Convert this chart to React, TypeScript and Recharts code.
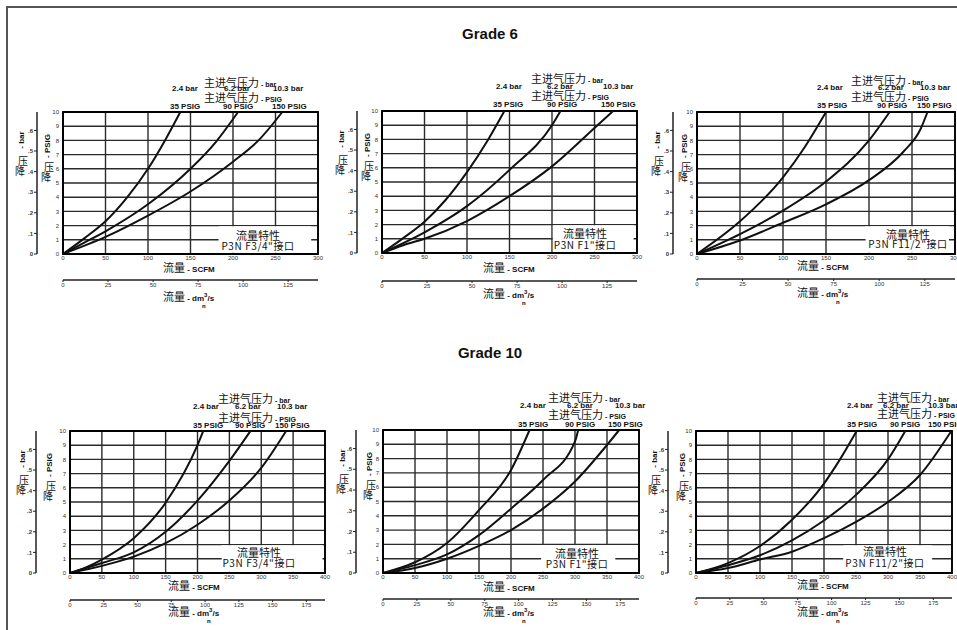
import React from 'react';
import { LineChart, Line, XAxis, YAxis, CartesianGrid, ReferenceArea } from 'recharts';

const CJK = '"Noto Sans CJK SC", "Noto Sans CJK JP", sans-serif';
const SANS = '"Liberation Sans", Arial, Helvetica, sans-serif';

type Pt = { scfm: number; psig: number };

// ---------- text / categories ----------
const gradeTitles = ['Grade 6', 'Grade 10'];
const portLabels = ['P3N F3/4"接口', 'P3N F1"接口', 'P3N F11/2"接口'];
const noteTitle = '流量特性';
const inletTitle = '主进气压力';
const inletBarLabels = ['2.4 bar', '6.2 bar', '10.3 bar'];
const inletPsigLabels = ['35 PSIG', '90 PSIG', '150 PSIG'];
const flowWord = '流量';

// ---------- ticks ----------
const psigTicks = [0, 1, 2, 3, 4, 5, 6, 7, 8, 9, 10];
const barTicks = [0, 0.1, 0.2, 0.3, 0.4, 0.5, 0.6];
const scfmTicksG6 = [0, 50, 100, 150, 200, 250, 300];
const scfmTicksG10 = [0, 50, 100, 150, 200, 250, 300, 350, 400];
const dmTicksG6 = [0, 25, 50, 75, 100, 125];
const dmTicksG10 = [0, 25, 50, 75, 100, 125, 150, 175];
const PSIG_TO_BAR = 0.0689476;
const SCFM_TO_DM = 0.471947;

// ---------- Grade 6, 3/4" ----------
const g6p34at35: Pt[] = [
  { scfm: 0, psig: 0 }, { scfm: 25, psig: 1.1 }, { scfm: 50, psig: 2.3 }, { scfm: 75, psig: 3.95 },
  { scfm: 100, psig: 6.0 }, { scfm: 120, psig: 8.0 }, { scfm: 138, psig: 10 },
];
const g6p34at90: Pt[] = [
  { scfm: 0, psig: 0 }, { scfm: 25, psig: 0.8 }, { scfm: 50, psig: 1.6 }, { scfm: 100, psig: 3.5 },
  { scfm: 150, psig: 6.0 }, { scfm: 180, psig: 7.9 }, { scfm: 206, psig: 10 },
];
const g6p34at150: Pt[] = [
  { scfm: 0, psig: 0 }, { scfm: 50, psig: 1.2 }, { scfm: 100, psig: 2.7 }, { scfm: 150, psig: 4.4 },
  { scfm: 200, psig: 6.5 }, { scfm: 230, psig: 8.0 }, { scfm: 258, psig: 10 },
];
// ---------- Grade 6, 1" ----------
const g6p1at35: Pt[] = [
  { scfm: 0, psig: 0 }, { scfm: 25, psig: 1.05 }, { scfm: 50, psig: 2.2 }, { scfm: 75, psig: 3.75 },
  { scfm: 100, psig: 5.7 }, { scfm: 125, psig: 8.0 }, { scfm: 144, psig: 10 },
];
const g6p1at90: Pt[] = [
  { scfm: 0, psig: 0 }, { scfm: 50, psig: 1.45 }, { scfm: 100, psig: 3.3 }, { scfm: 150, psig: 5.85 },
  { scfm: 200, psig: 9.0 }, { scfm: 210, psig: 10 },
];
const g6p1at150: Pt[] = [
  { scfm: 0, psig: 0 }, { scfm: 25, psig: 0.55 }, { scfm: 50, psig: 1.0 }, { scfm: 100, psig: 2.25 },
  { scfm: 150, psig: 4.0 }, { scfm: 200, psig: 6.1 }, { scfm: 250, psig: 8.8 }, { scfm: 272, psig: 10 },
];
// ---------- Grade 6, 1 1/2" ----------
const g6p112at35: Pt[] = [
  { scfm: 0, psig: 0 }, { scfm: 50, psig: 2.3 }, { scfm: 100, psig: 5.4 }, { scfm: 125, psig: 7.5 },
  { scfm: 150, psig: 10 },
];
const g6p112at90: Pt[] = [
  { scfm: 0, psig: 0 }, { scfm: 50, psig: 1.4 }, { scfm: 100, psig: 3.05 }, { scfm: 150, psig: 5.1 },
  { scfm: 200, psig: 8.0 }, { scfm: 224, psig: 10 },
];
const g6p112at150: Pt[] = [
  { scfm: 0, psig: 0 }, { scfm: 50, psig: 0.95 }, { scfm: 100, psig: 2.2 }, { scfm: 150, psig: 3.5 },
  { scfm: 200, psig: 5.2 }, { scfm: 240, psig: 7.2 }, { scfm: 260, psig: 8.8 }, { scfm: 268, psig: 10 },
];
// ---------- Grade 10, 3/4" ----------
const g10p34at35: Pt[] = [
  { scfm: 0, psig: 0 }, { scfm: 25, psig: 0.4 }, { scfm: 50, psig: 0.95 }, { scfm: 100, psig: 2.45 },
  { scfm: 150, psig: 4.95 }, { scfm: 200, psig: 9.0 }, { scfm: 209, psig: 10 },
];
const g10p34at90: Pt[] = [
  { scfm: 0, psig: 0 }, { scfm: 50, psig: 0.7 }, { scfm: 100, psig: 1.45 }, { scfm: 150, psig: 2.9 },
  { scfm: 200, psig: 5.1 }, { scfm: 250, psig: 7.9 }, { scfm: 283, psig: 10 },
];
const g10p34at150: Pt[] = [
  { scfm: 0, psig: 0 }, { scfm: 50, psig: 0.5 }, { scfm: 100, psig: 1.15 }, { scfm: 150, psig: 2.1 },
  { scfm: 200, psig: 3.4 }, { scfm: 250, psig: 5.1 }, { scfm: 300, psig: 7.4 }, { scfm: 339, psig: 10 },
];
// ---------- Grade 10, 1" ----------
const g10p1at35: Pt[] = [
  { scfm: 0, psig: 0 }, { scfm: 50, psig: 0.75 }, { scfm: 100, psig: 2.1 }, { scfm: 150, psig: 4.4 },
  { scfm: 200, psig: 7.2 }, { scfm: 229, psig: 10 },
];
const g10p1at90: Pt[] = [
  { scfm: 0, psig: 0 }, { scfm: 50, psig: 0.55 }, { scfm: 100, psig: 1.3 }, { scfm: 150, psig: 2.65 },
  { scfm: 200, psig: 4.5 }, { scfm: 250, psig: 6.5 }, { scfm: 300, psig: 9.2 }, { scfm: 305, psig: 10 },
];
const g10p1at150: Pt[] = [
  { scfm: 0, psig: 0 }, { scfm: 50, psig: 0.35 }, { scfm: 100, psig: 1.0 }, { scfm: 150, psig: 1.9 },
  { scfm: 200, psig: 3.0 }, { scfm: 250, psig: 4.5 }, { scfm: 300, psig: 6.4 }, { scfm: 350, psig: 8.95 },
  { scfm: 369, psig: 10 },
];
// ---------- Grade 10, 1 1/2" ----------
const g10p112at35: Pt[] = [
  { scfm: 0, psig: 0 }, { scfm: 50, psig: 0.7 }, { scfm: 100, psig: 1.9 }, { scfm: 150, psig: 3.75 },
  { scfm: 200, psig: 6.3 }, { scfm: 225, psig: 8.0 }, { scfm: 251, psig: 10 },
];
const g10p112at90: Pt[] = [
  { scfm: 0, psig: 0 }, { scfm: 50, psig: 0.55 }, { scfm: 100, psig: 1.25 }, { scfm: 150, psig: 2.3 },
  { scfm: 200, psig: 3.7 }, { scfm: 250, psig: 5.5 }, { scfm: 300, psig: 8.0 }, { scfm: 327, psig: 10 },
];
const g10p112at150: Pt[] = [
  { scfm: 0, psig: 0 }, { scfm: 50, psig: 0.35 }, { scfm: 100, psig: 0.95 }, { scfm: 150, psig: 1.5 },
  { scfm: 200, psig: 2.45 }, { scfm: 250, psig: 3.6 }, { scfm: 300, psig: 5.0 }, { scfm: 350, psig: 6.9 },
  { scfm: 399, psig: 10 },
];

// ---------- layout ----------
interface PanelCfg {
  px: number; py: number; pw: number; ph: number; bx: number; axH: number;
  xmax: number; scfmTicks: number[]; dmTicks: number[]; series: Pt[][]; port: string;
  box: [number, number, number, number];
  l1x: number; l1y: number; l2y: number; barY: number; psigY: number;
  barXs: number[]; psigXs: number[];
  ylx: number; blx: number; scfmLab: [number, number]; dmLab: [number, number];
  note: [number, number, number];
}

const panels: PanelCfg[] = [
  {
    px: 63, py: 112, pw: 255, ph: 142, bx: 37, axH: 26, xmax: 300, scfmTicks: scfmTicksG6, dmTicks: dmTicksG6,
    series: [g6p34at35, g6p34at90, g6p34at150], port: portLabels[0], box: [183, 292, 0.08, 1.95],
    l1x: 204, l1y: 82, l2y: 97, barY: 89, psigY: 107, barXs: [172, 224, 273], psigXs: [170, 223, 272],
    ylx: 48, blx: 22, scfmLab: [163, 268], dmLab: [163, 297], note: [258, 235, 246],
  },
  {
    px: 382, py: 111, pw: 255, ph: 142, bx: 357, axH: 28, xmax: 300, scfmTicks: scfmTicksG6, dmTicks: dmTicksG6,
    series: [g6p1at35, g6p1at90, g6p1at150], port: portLabels[1], box: [201, 296, 0.08, 1.95],
    l1x: 531, l1y: 78, l2y: 95, barY: 87, psigY: 105, barXs: [496, 547, 603], psigXs: [493, 547, 601],
    ylx: 368, blx: 342, scfmLab: [483, 268], dmLab: [483, 294], note: [585, 233, 245],
  },
  {
    px: 697, py: 112, pw: 258, ph: 142, bx: 673, axH: 25, xmax: 300, scfmTicks: scfmTicksG6, dmTicks: dmTicksG6,
    series: [g6p112at35, g6p112at90, g6p112at150], port: portLabels[2], box: [196, 293, 0.08, 1.95],
    l1x: 851, l1y: 80, l2y: 96, barY: 88, psigY: 106, barXs: [817, 878, 920], psigXs: [817, 877, 917],
    ylx: 685, blx: 658, scfmLab: [797, 266], dmLab: [797, 293], note: [908, 234, 244],
  },
  {
    px: 70, py: 431, pw: 255, ph: 142, bx: 36, axH: 27, xmax: 400, scfmTicks: scfmTicksG10, dmTicks: dmTicksG10,
    series: [g10p34at35, g10p34at90, g10p34at150], port: portLabels[0], box: [238, 396, 0.08, 1.95],
    l1x: 218, l1y: 398, l2y: 417, barY: 407, psigY: 426, barXs: [193, 235, 277], psigXs: [193, 235, 275],
    ylx: 50, blx: 23, scfmLab: [168, 586], dmLab: [168, 612], note: [259, 552, 563],
  },
  {
    px: 383, py: 430, pw: 256, ph: 143, bx: 356, axH: 26, xmax: 400, scfmTicks: scfmTicksG10, dmTicks: dmTicksG10,
    series: [g10p1at35, g10p1at90, g10p1at150], port: portLabels[1], box: [247, 363, 0.08, 1.95],
    l1x: 548, l1y: 397, l2y: 414, barY: 406, psigY: 425, barXs: [520, 567, 615], psigXs: [518, 565, 608],
    ylx: 370, blx: 343, scfmLab: [483, 587], dmLab: [483, 612], note: [577, 553, 564],
  },
  {
    px: 696, py: 431, pw: 256, ph: 142, bx: 668, axH: 25, xmax: 400, scfmTicks: scfmTicksG10, dmTicks: dmTicksG10,
    series: [g10p112at35, g10p112at90, g10p112at150], port: portLabels[2], box: [230, 369, 0.08, 1.95],
    l1x: 877, l1y: 397, l2y: 413, barY: 406, psigY: 425, barXs: [847, 883, 928], psigXs: [847, 890, 928],
    ylx: 683, blx: 655, scfmLab: [797, 585], dmLab: [797, 612], note: [885, 551, 563],
  },
];

const Txt = ({ x, y, size, children, font = SANS, bold = false, anchor = 'start', color = '#111', style = {} }: any) => (
  <div
    style={{
      position: 'absolute', left: x, top: y,
      transform: `translate(${anchor === 'middle' ? '-50%' : anchor === 'end' ? '-100%' : '0'}, -50%)`,
      fontSize: size, fontFamily: font, fontWeight: bold ? 700 : 400, color, lineHeight: 1,
      whiteSpace: 'nowrap', ...style,
    }}
  >
    {children}
  </div>
);

const VLabel = ({ x, y, unit }: { x: number; y: number; unit: string }) => (
  <>
    <div
      style={{
        position: 'absolute', left: x, top: y,
        transform: 'translate(-50%, -50%) rotate(-90deg)',
        fontSize: 8, fontFamily: SANS, fontWeight: 700, color: '#111', lineHeight: 1, whiteSpace: 'nowrap',
      }}
    >
      - {unit}
    </div>
    <Txt x={x + 1} y={y + 21} size={10} font={CJK} anchor="middle">压</Txt>
    <Txt x={x - 2} y={y + 31} size={10} font={CJK} anchor="middle">降</Txt>
  </>
);

const tickStyle = { fontSize: 6, fill: '#333', fontFamily: SANS };
const barFmt = (v: number) => (v === 0 ? '0' : v.toFixed(1).replace(/^0/, ''));
const dmFmt = (v: number) => String(v);

function Panel({ c }: { c: PanelCfg }) {
  const barW = 22;
  const left = c.bx - barW;
  const top = c.py - 8;
  const width = c.px + c.pw - left + 8;
  const height = 8 + c.ph + c.axH + 22;
  return (
    <>
      <div style={{ position: 'absolute', left, top }}>
        <LineChart width={width} height={height} margin={{ top: 8, right: 8, bottom: 0, left: 0 }}>
          <CartesianGrid xAxisId="x1" yAxisId="y1" stroke="#2a2a2a" strokeWidth={1.4} />
          <XAxis
            xAxisId="x1" type="number" dataKey="scfm" domain={[0, c.xmax]} ticks={c.scfmTicks} interval={0}
            height={c.axH} axisLine={{ stroke: '#000', strokeWidth: 2 }} tickLine={false} tickSize={1}
            tickMargin={1} tick={tickStyle} allowDataOverflow
          />
          <XAxis
            xAxisId="x2" type="number" dataKey="dm" scale="linear" domain={[0, c.xmax * SCFM_TO_DM]}
            ticks={c.dmTicks} interval={0} height={22} axisLine={{ stroke: '#222', strokeWidth: 1.5 }}
            tickSize={2} tickMargin={1} tickLine={{ stroke: '#222' }} tick={tickStyle}
            tickFormatter={dmFmt} allowDataOverflow
          />
          <YAxis
            yAxisId="y1" type="number" domain={[0, 10]} ticks={psigTicks} interval={0} width={c.px - c.bx}
            axisLine={{ stroke: '#000', strokeWidth: 2 }} tickLine={false} tickSize={1} tickMargin={3}
            tick={tickStyle}
          />
          <YAxis
            yAxisId="y2" type="number" domain={[0, 10 * PSIG_TO_BAR]} ticks={barTicks} interval={0} width={barW}
            axisLine={{ stroke: '#222', strokeWidth: 1.5 }} tickSize={3} tickMargin={1}
            tickLine={{ stroke: '#222' }} tick={{ ...tickStyle, fontWeight: 700 }} tickFormatter={barFmt}
            allowDataOverflow
          />
          <ReferenceArea
            xAxisId="x1" yAxisId="y1" x1={c.box[0]} x2={c.box[1]} y1={c.box[2]} y2={c.box[3]}
            fill="#fff" fillOpacity={1} stroke="none"
          />
          <ReferenceArea
            xAxisId="x1" yAxisId="y1" x1={0} x2={c.xmax} y1={0} y2={10}
            fill="none" fillOpacity={0} stroke="#000" strokeWidth={1.8}
          />
          {c.series.map((s, i) => (
            <Line
              key={i} xAxisId="x1" yAxisId="y1" data={s} dataKey="psig" type="monotone"
              stroke="#111" strokeWidth={2} dot={false} isAnimationActive={false}
            />
          ))}
        </LineChart>
      </div>

      {/* inlet pressure labels */}
      <Txt x={c.l1x} y={c.l1y} size={11} font={CJK}>
        {inletTitle}
        <span style={{ fontFamily: SANS, fontWeight: 700, fontSize: 7 }}> - bar</span>
      </Txt>
      {inletBarLabels.map((t, i) => (
        <Txt key={t} x={c.barXs[i]} y={c.barY} size={8} bold>{t}</Txt>
      ))}
      <Txt x={c.l1x} y={c.l2y} size={11} font={CJK}>
        {inletTitle}
        <span style={{ fontFamily: SANS, fontWeight: 700, fontSize: 7 }}> - PSIG</span>
      </Txt>
      {inletPsigLabels.map((t, i) => (
        <Txt key={t} x={c.psigXs[i]} y={c.psigY} size={8} bold>{t}</Txt>
      ))}

      {/* axis titles */}
      <VLabel x={c.ylx} y={c.py + 34} unit="PSIG" />
      <VLabel x={c.blx} y={c.py + 28} unit="bar" />
      <Txt x={c.scfmLab[0]} y={c.scfmLab[1]} size={11} font={CJK}>
        {flowWord}
        <span style={{ fontFamily: SANS, fontWeight: 700, fontSize: 8 }}> - SCFM</span>
      </Txt>
      <Txt x={c.dmLab[0]} y={c.dmLab[1]} size={11} font={CJK}>
        {flowWord}
        <span style={{ fontFamily: SANS, fontWeight: 700, fontSize: 8 }}> - dm</span>
        <span style={{ fontFamily: SANS, fontWeight: 700, fontSize: 6, position: 'relative', top: -4 }}>3</span>
        <span style={{ fontFamily: SANS, fontWeight: 700, fontSize: 8 }}>/s</span>
      </Txt>
      <Txt x={c.dmLab[0] + 39} y={c.dmLab[1] + 9} size={6} bold color="#000">n</Txt>

      {/* note */}
      <Txt x={c.note[0]} y={c.note[1]} size={11} font={CJK} anchor="middle">{noteTitle}</Txt>
      <Txt x={c.note[0]} y={c.note[2]} size={10} font={CJK} anchor="middle" style={{ letterSpacing: 0.6 }}>
        {c.port}
      </Txt>
    </>
  );
}

export default function App() {
  return (
    <div
      style={{
        position: 'absolute', left: 0, top: 0, width: 957, height: 630, background: '#fff', overflow: 'hidden',
      }}
    >
      <div style={{ position: 'absolute', left: 6, top: 6, width: 951, height: 1.5, background: '#555' }} />
      <div style={{ position: 'absolute', left: 6, top: 6, width: 1.5, height: 624, background: '#555' }} />
      <Txt x={490} y={33} size={15} bold anchor="middle">{gradeTitles[0]}</Txt>
      <Txt x={490} y={352} size={15} bold anchor="middle">{gradeTitles[1]}</Txt>
      {panels.map((c, i) => (
        <Panel key={i} c={c} />
      ))}
    </div>
  );
}
